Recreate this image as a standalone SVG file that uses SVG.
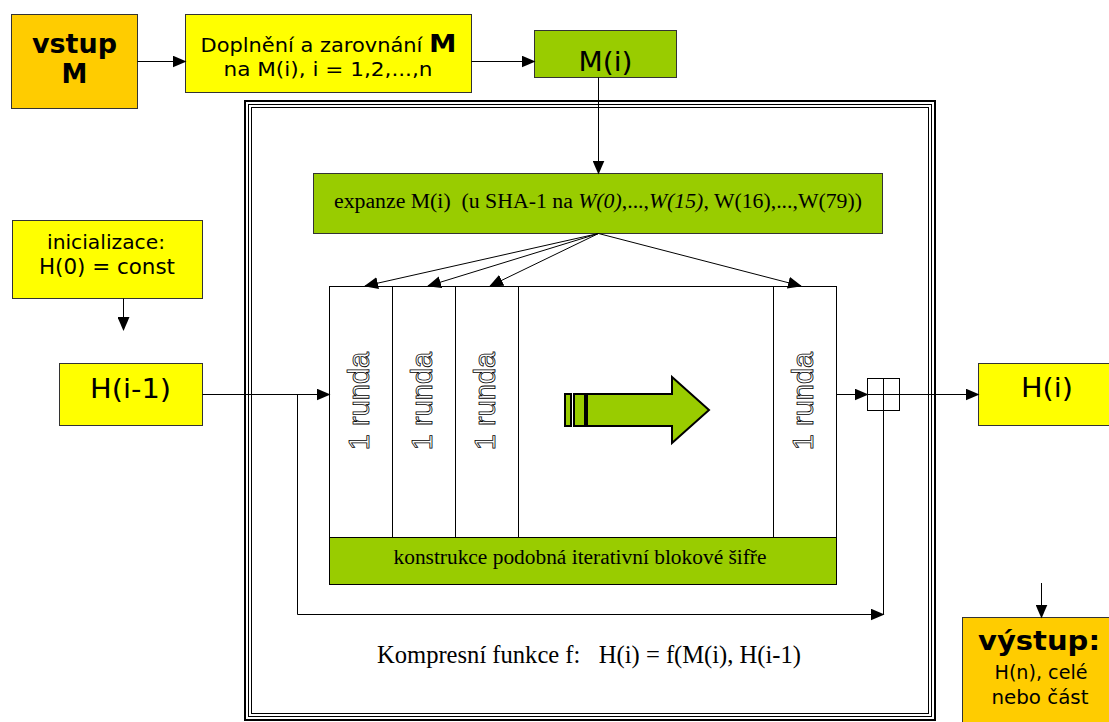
<svg xmlns="http://www.w3.org/2000/svg" width="1109" height="722" viewBox="0 0 1109 722">
<style>
.box{stroke:#333;stroke-width:1}
.or{fill:#FFCC00}.ye{fill:#FFFF00}.gr{fill:#99CC00}
.sans{font-family:"DejaVu Sans","Verdana",sans-serif;fill:#000}
.ser{font-family:"Liberation Serif","Times New Roman",serif;fill:#000}
.rd{font-family:"Liberation Sans",Arial,sans-serif;font-size:29px;fill:#fff;stroke:#000;stroke-width:0.8;text-anchor:middle}
.ln{stroke:#000;stroke-width:1;fill:none}
.c{text-anchor:middle}
</style>
<defs>
<marker id="ah" markerUnits="userSpaceOnUse" markerWidth="14" markerHeight="12" refX="13" refY="6" orient="auto">
<path d="M0,0 L14,6 L0,12 Z" fill="#000"/>
</marker>
</defs>
<rect width="1109" height="722" fill="#fff"/>

<g id="frame" fill="none" stroke="#000">
<rect x="245" y="101" width="690" height="619" stroke-width="2"/>
<rect x="248.5" y="104.5" width="683" height="612" stroke-width="1"/>
<rect x="251.5" y="107.5" width="677" height="606" stroke-width="1"/>
</g>

<g id="vstup">
<rect class="box or" x="11.5" y="14.5" width="126" height="94"/>
<text class="sans c" x="74.5" y="53" font-size="26" font-weight="bold" textLength="85" lengthAdjust="spacingAndGlyphs">vstup</text>
<text class="sans c" x="74.5" y="83" font-size="26" font-weight="bold">M</text>
</g>

<g id="doplneni">
<rect class="box ye" x="185.5" y="14.5" width="286" height="78"/>
<text class="sans c" x="328.5" y="52" font-size="19" textLength="256" lengthAdjust="spacingAndGlyphs">Doplnění a zarovnání <tspan font-weight="bold" font-size="25">M</tspan></text>
<text class="sans c" x="328" y="76" font-size="19" textLength="209" lengthAdjust="spacingAndGlyphs">na M(i), i = 1,2,...,n</text>
</g>

<g id="mi">
<rect class="box gr" x="534.5" y="30.5" width="142" height="47"/>
<text class="sans c" x="605.5" y="71" font-size="26" textLength="54" lengthAdjust="spacingAndGlyphs">M(i)</text>
</g>

<g id="expanze">
<rect class="box gr" x="313.5" y="173.5" width="569" height="60"/>
<text class="ser c" x="598" y="208" font-size="20" textLength="528" lengthAdjust="spacingAndGlyphs">expanze M(i)&#160; (u SHA-1 na <tspan font-style="italic">W(0)</tspan>,...,<tspan font-style="italic">W(15)</tspan>, W(16),...,W(79))</text>
</g>

<g id="inicializace">
<rect class="box ye" x="12.5" y="220.5" width="190" height="78"/>
<text class="sans c" x="106" y="249" font-size="20" textLength="118" lengthAdjust="spacingAndGlyphs">inicializace:</text>
<text class="sans c" x="107" y="274" font-size="21" textLength="136" lengthAdjust="spacingAndGlyphs">H(0) = const</text>
</g>

<g id="hi1">
<rect class="box ye" x="59.5" y="363.5" width="143" height="62"/>
<text class="sans c" x="130.5" y="398" font-size="27" textLength="81" lengthAdjust="spacingAndGlyphs">H(i-1)</text>
</g>

<g id="rounds">
<rect x="329.5" y="286.5" width="507" height="251" fill="#fff" stroke="#000"/>
<line class="ln" x1="392.5" y1="286.5" x2="392.5" y2="537.5"/>
<line class="ln" x1="455.5" y1="286.5" x2="455.5" y2="537.5"/>
<line class="ln" x1="518.5" y1="286.5" x2="518.5" y2="537.5"/>
<line class="ln" x1="773.5" y1="286.5" x2="773.5" y2="537.5"/>
<text class="rd" transform="translate(369,401) rotate(-90)">1 runda</text>
<text class="rd" transform="translate(432,401) rotate(-90)">1 runda</text>
<text class="rd" transform="translate(495,401) rotate(-90)">1 runda</text>
<text class="rd" transform="translate(813,401) rotate(-90)">1 runda</text>
<g fill="#99CC00" stroke="#000" stroke-width="2">
<rect x="565" y="394" width="6" height="32"/>
<rect x="574" y="394" width="11" height="32"/>
<polygon points="587,394 672,394 672,377 709,410 672,443 672,426 587,426"/>
</g>
</g>

<g id="konstrukce">
<rect class="gr" x="329.5" y="537.5" width="507" height="47" stroke="#000"/>
<text class="ser c" x="580" y="564" font-size="20" textLength="373" lengthAdjust="spacingAndGlyphs">konstrukce podobná iterativní blokové šifře</text>
</g>

<g id="xor" fill="none" stroke="#000">
<rect x="867.5" y="378.5" width="32" height="32" fill="#fff"/>
<line x1="883.5" y1="378.5" x2="883.5" y2="410.5"/>
<line x1="867.5" y1="394.5" x2="899.5" y2="394.5"/>
</g>

<g id="hi">
<rect class="box ye" x="978.5" y="363.5" width="140" height="62"/>
<text class="sans c" x="1047" y="397" font-size="27" textLength="52" lengthAdjust="spacingAndGlyphs">H(i)</text>
</g>

<g id="kompresni">
<text class="ser c" x="589" y="663" font-size="25" textLength="424" lengthAdjust="spacingAndGlyphs">Kompresní funkce f:&#160;&#160; H(i) = f(M(i), H(i-1)</text>
</g>

<g id="vystup">
<rect class="box or" x="962.5" y="617.5" width="160" height="120"/>
<text class="sans c" x="1039" y="650" font-size="27" font-weight="bold" textLength="122" lengthAdjust="spacingAndGlyphs">výstup:</text>
<text class="sans c" x="1041" y="679" font-size="20" textLength="93" lengthAdjust="spacingAndGlyphs">H(n), celé</text>
<text class="sans c" x="1040" y="704" font-size="20" textLength="97" lengthAdjust="spacingAndGlyphs">nebo část</text>
</g>

<g id="connectors" class="ln">
<line x1="137.5" y1="61.5" x2="185.5" y2="61.5" marker-end="url(#ah)"/>
<line x1="471.5" y1="61.5" x2="534.5" y2="61.5" marker-end="url(#ah)"/>
<line x1="598.5" y1="77.5" x2="598.5" y2="173.5" marker-end="url(#ah)"/>
<line x1="598.5" y1="233.5" x2="365" y2="286" marker-end="url(#ah)"/>
<line x1="598.5" y1="233.5" x2="428" y2="286" marker-end="url(#ah)"/>
<line x1="598.5" y1="233.5" x2="490" y2="286" marker-end="url(#ah)"/>
<line x1="598.5" y1="233.5" x2="801" y2="286" marker-end="url(#ah)"/>
<line x1="123.5" y1="298.5" x2="123.5" y2="330" marker-end="url(#ah)"/>
<line x1="202.5" y1="394.5" x2="329.5" y2="394.5" marker-end="url(#ah)"/>
<polyline points="297.5,394.5 297.5,614.5 883.5,614.5" marker-end="url(#ah)"/>
<line x1="883.5" y1="410.5" x2="883.5" y2="614.5"/>
<line x1="836.5" y1="394.5" x2="867.5" y2="394.5" marker-end="url(#ah)"/>
<line x1="899.5" y1="394.5" x2="978.5" y2="394.5" marker-end="url(#ah)"/>
<line x1="1041.5" y1="583" x2="1041.5" y2="617.5" marker-end="url(#ah)"/>
</g>
</svg>
